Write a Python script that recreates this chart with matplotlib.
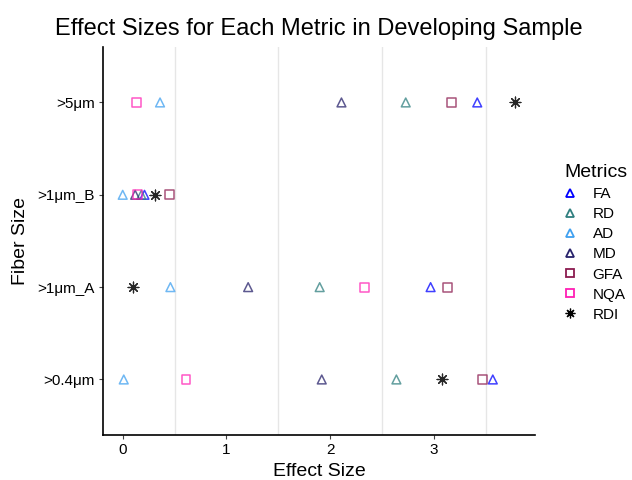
import numpy as np
import matplotlib.pyplot as plt
from matplotlib.lines import Line2D

plt.rcParams['font.family'] = ['Liberation Sans', 'DejaVu Sans']

# categorias del eje y (de abajo hacia arriba)
fiber_sizes = ['>0.4μm', '>1μm_A', '>1μm_B', '>5μm']
metrics = ['FA', 'RD', 'AD', 'MD', 'GFA', 'NQA', 'RDI']

# tamaños de efecto por metrica, en el orden de fiber_sizes
fa = [3.57, 2.97, 0.21, 3.42]
rd = [2.64, 1.90, 0.18, 2.73]
ad = [0.01, 0.46, 0.00, 0.36]
md = [1.92, 1.21, 0.12, 2.11]
gfa = [3.47, 3.13, 0.45, 3.17]
nqa = [0.61, 2.33, 0.14, 0.13]
rdi = [3.08, 0.10, 0.31, 3.78]

valores = [fa, rd, ad, md, gfa, nqa, rdi]
colores = ['#0000FF', '#2F7F7F', '#3FA0F0', '#27226B', '#8B1A4F', '#FF1FB4', '#000000']
marcadores = ['^', '^', '^', '^', 's', 's', 'ast']

fig = plt.figure(figsize=(6.32, 4.8), dpi=100)
ax = fig.add_axes([0.163, 0.094, 0.684, 0.808])

y = np.arange(1, len(fiber_sizes) + 1)
handles = []
for nombre, vals, col, mk in zip(metrics, valores, colores, marcadores):
    if mk == 'ast':
        ax.scatter(vals, y, marker=(8, 2, 0), s=60, c=col, linewidths=0.9, alpha=0.85, zorder=3)
        h = Line2D([], [], marker=(8, 2, 0), color=col, linestyle='none', markersize=7, markeredgewidth=0.9)
    else:
        ax.scatter(vals, y, marker=mk, s=40, facecolors='none', edgecolors=col, linewidths=1.1, alpha=0.75, zorder=3)
        h = Line2D([], [], marker=mk, color=col, markerfacecolor='none', linestyle='none', markersize=6, markeredgewidth=1.3)
    handles.append(h)

ax.set_xlim(-0.19, 3.98)
ax.set_ylim(0.4, 4.6)
ax.set_yticks(y)
ax.set_yticklabels(fiber_sizes, fontsize=11)
ax.set_xticks([0, 1, 2, 3])
ax.set_xticklabels(['0', '1', '2', '3'], fontsize=11)
ax.set_xticks([0.5, 1.5, 2.5, 3.5], minor=True)
ax.grid(True, which='minor', axis='x', color='#e6e6e6', linewidth=1.0)
ax.tick_params(which='minor', length=0)
ax.tick_params(which='major', length=3, color='#444444', pad=3)
for lado in ['top', 'right']:
    ax.spines[lado].set_visible(False)
for lado in ['left', 'bottom']:
    ax.spines[lado].set_linewidth(1.2)

ax.set_xlabel('Effect Size', fontsize=14, labelpad=4)
ax.set_ylabel('Fiber Size', fontsize=14, labelpad=6)
ax.set_title('Effect Sizes for Each Metric in Developing Sample', fontsize=17, pad=9)

fig.legend(handles, metrics, title='Metrics', loc='center left', bbox_to_anchor=(0.871, 0.494),
           frameon=False, fontsize=11, title_fontsize=14, handlelength=0.8, handletextpad=1.05,
           labelspacing=0.4, alignment='left')

plt.savefig('out.png', dpi=100)
